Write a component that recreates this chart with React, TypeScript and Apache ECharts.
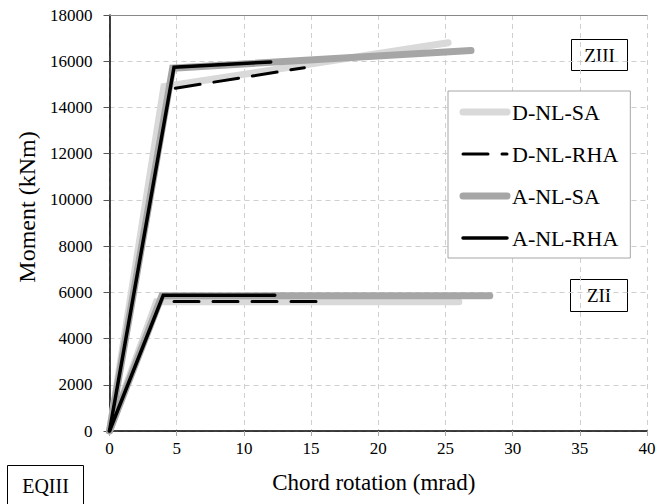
import React, { useEffect, useRef } from "react";
import * as echarts from "echarts";

const FONT = "'Liberation Serif', 'Times New Roman', serif";

// x ticks (mrad) and y ticks (kNm)
const xTicks = [0, 5, 10, 15, 20, 25, 30, 35, 40];
const yTicks = [0, 2000, 4000, 6000, 8000, 10000, 12000, 14000, 16000, 18000];

const legendNames = ["D-NL-SA", "D-NL-RHA", "A-NL-SA", "A-NL-RHA"];

// ZIII branch: [chord rotation, moment]
const dnlsaZIII = [[0, 0], [4.05, 14900], [25.2, 16800]];
const dnlrhaZIII = [[4.9, 14830], [14.5, 15720]];
const anlsaZIII = [[0, 0], [4.7, 15700], [26.9, 16460]];
const anlrhaZIII = [[0, 0], [4.8, 15740], [12.0, 15970]];

// ZII branch
const dnlsaZII = [[0, 0], [3.5, 5590], [26.0, 5590]];
const dnlrhaZII = [[4.8, 5600], [15.5, 5600]];
const anlsaZII = [[0, 0], [3.9, 5850], [28.3, 5850]];
const anlrhaZII = [[0, 0], [4.0, 5870], [12.3, 5870]];

const LIGHT = "#d9d9d9";
const DARK = "#a6a6a6";
const BLACK = "#000000";

function lineSeries(name: string, data: number[][], color: string, width: number, type: any, z: number) {
  return {
    type: "line",
    name,
    data,
    symbol: "none",
    silent: true,
    z,
    itemStyle: { color },
    lineStyle: { color, width, type, cap: "round", join: "miter" },
  };
}

export default function App() {
  const ref = useRef<HTMLDivElement>(null);
  useEffect(() => {
    if (!ref.current) return;
    const chart = echarts.init(ref.current, undefined, { renderer: "svg" });
    const option: any = {
      animation: false,
      backgroundColor: "#ffffff",
      textStyle: { fontFamily: FONT },
      grid: { left: 109.5, right: 12, top: 15, bottom: 73, containLabel: false },
      xAxis: [
        {
          type: "value",
          min: xTicks[0],
          max: xTicks[xTicks.length - 1],
          interval: 5,
          name: "Chord rotation (mrad)",
          nameLocation: "middle",
          nameGap: 40,
          nameTextStyle: { fontFamily: FONT, fontSize: 23, color: "#000", padding: [0, 9, 0, 0] },
          axisLine: { show: true, onZero: false, lineStyle: { color: "#000", width: 1.5 } },
          axisTick: { show: true, length: 5, lineStyle: { color: "#aaa" } },
          axisLabel: { fontFamily: FONT, fontSize: 17, color: "#000", margin: 9, formatter: (v: number) => String(v) },
          splitLine: { show: true, lineStyle: { color: "#cfcfcf", type: [5, 4], width: 1 } },
        },
        {
          type: "value",
          position: "top",
          min: 0,
          max: 40,
          interval: 5,
          axisLine: { show: true, onZero: false, lineStyle: { color: "#888", width: 1 } },
          axisTick: { show: false },
          axisLabel: { show: false },
          splitLine: { show: false },
        },
      ],
      yAxis: {
        type: "value",
        min: yTicks[0],
        max: yTicks[yTicks.length - 1],
        interval: 2000,
        name: "Moment (kNm)",
        nameLocation: "middle",
        nameGap: 56,
        nameTextStyle: { fontFamily: FONT, fontSize: 24, color: "#000", padding: [0, 0, 0, 32] },
        axisLine: { show: true, onZero: false, lineStyle: { color: "#000", width: 1.5 } },
        axisTick: { show: true, length: 6, lineStyle: { color: "#555" } },
        axisLabel: { fontFamily: FONT, fontSize: 17, color: "#000", margin: 17, formatter: (v: number) => String(v) },
        splitLine: { show: true, lineStyle: { color: "#cfcfcf", type: [5, 4], width: 1 } },
      },
      legend: {
        data: legendNames,
        orient: "vertical",
        left: 448,
        top: 91,
        itemWidth: 44,
        itemHeight: 14,
        itemGap: 20,
        padding: [10, 12, 9, 11.5],
        backgroundColor: "#ffffff",
        borderColor: "#a6a6a6",
        borderWidth: 1,
        selectedMode: false,
        itemStyle: { color: "rgba(0,0,0,0)", borderColor: "rgba(0,0,0,0)", borderWidth: 0 },
        lineStyle: { width: "inherit" },
        textStyle: { fontFamily: FONT, fontSize: 22, color: "#000", lineHeight: 22 },
      },
      series: [
        lineSeries("D-NL-SA", dnlsaZIII, LIGHT, 7, "solid", 1),
        lineSeries("D-NL-SA", dnlsaZII, LIGHT, 7, "solid", 1),
        lineSeries("A-NL-SA", anlsaZIII, DARK, 7, "solid", 2),
        lineSeries("A-NL-SA", anlsaZII, DARK, 7, "solid", 2),
        lineSeries("D-NL-RHA", dnlrhaZIII, BLACK, 3, [25, 14], 3),
        lineSeries("D-NL-RHA", dnlrhaZII, BLACK, 3, [25, 14], 3),
        lineSeries("A-NL-RHA", anlrhaZIII, BLACK, 3.5, "solid", 4),
        lineSeries("A-NL-RHA", anlrhaZII, BLACK, 3.5, "solid", 4),
      ],
      graphic: [
        {
          type: "group",
          z: 100,
          children: [
            { type: "rect", shape: { x: 571.5, y: 39.5, width: 56, height: 31 }, style: { fill: "#fff", stroke: "#000", lineWidth: 1 } },
            { type: "text", x: 599.5, y: 55, style: { text: "ZIII", font: `19px ${FONT}`, fill: "#000", align: "center", verticalAlign: "middle" } },
            { type: "rect", shape: { x: 570.5, y: 279.5, width: 57, height: 32 }, style: { fill: "#fff", stroke: "#000", lineWidth: 1 } },
            { type: "text", x: 599, y: 295.5, style: { text: "ZII", font: `19px ${FONT}`, fill: "#000", align: "center", verticalAlign: "middle" } },
            { type: "rect", shape: { x: 7.5, y: 465.5, width: 76, height: 50 }, style: { fill: "#fff", stroke: "#000", lineWidth: 1 } },
            { type: "text", x: 45.5, y: 486, style: { text: "EQIII", font: `20px ${FONT}`, fill: "#000", align: "center", verticalAlign: "middle" } },
          ],
        },
      ],
    };
    chart.setOption(option);
    return () => chart.dispose();
  }, []);
  return <div ref={ref} style={{ width: 659, height: 504, position: "absolute", left: 0, top: 0 }} />;
}
